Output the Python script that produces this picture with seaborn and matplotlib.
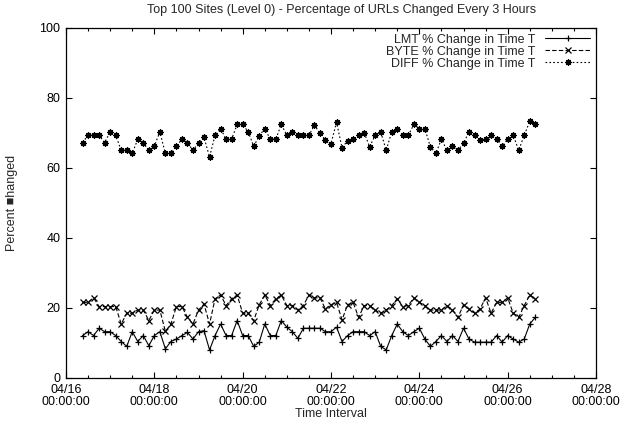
import numpy as np
import pandas as pd
import matplotlib
matplotlib.use("Agg")
import matplotlib.pyplot as plt
import matplotlib.dates as mdates
import seaborn as sns

title = "Top 100 Sites (Level 0) - Percentage of URLs Changed Every 3 Hours"
series_names = ["LMT % Change in Time T", "BYTE % Change in Time T", "DIFF % Change in Time T"]
start_time = "2001-04-16 09:00"
step = "3h"

lmt = [12.0, 13.1, 12.0, 14.1, 13.1, 13.1, 12.0, 10.3, 8.9, 13.1, 10.3, 12.0, 9.1, 12.0, 13.1, 8.2,
       10.3, 11.0, 12.0, 12.9, 11.0, 13.1, 13.4,
       7.9, 12.0, 15.3, 12.0, 12.0, 16.3, 12.0, 12.0, 8.9, 10.1, 15.3, 12.0, 12.0, 16.3, 14.4, 13.1,
       11.2, 14.1, 14.1, 14.1, 14.1, 13.1, 13.1, 14.4,
       10.3, 12.0, 13.1, 13.1, 13.1, 12.0, 13.1, 8.9, 7.9, 12.0, 15.3, 13.1, 12.0, 13.1, 14.1, 11.0,
       8.9, 10.3, 12.0, 10.3, 12.0, 10.3, 14.1, 11.0,
       10.1, 10.1, 10.1, 10.1, 12.0, 10.1, 12.0, 11.0, 10.1, 11.0, 15.3, 17.2]
byte = [21.5, 21.5, 22.8, 20.3, 20.3, 20.3, 20.3, 15.3, 18.4, 18.4, 19.3, 19.3, 16.3, 19.3, 19.3, 13.2,
        15.3, 20.3, 20.3, 17.2, 15.3, 19.3, 21.0,
        15.3, 22.5, 23.6, 20.6, 22.5, 23.6, 18.4, 18.4, 16.3, 20.8, 23.6, 20.6, 22.5, 23.6, 20.6, 20.6,
        19.3, 20.6, 23.6, 22.8, 22.8, 19.6, 20.8, 21.5,
        16.5, 20.8, 21.5, 17.2, 20.6, 20.6, 19.3, 18.4, 19.3, 20.6, 22.5, 20.3, 20.6, 22.8, 21.5, 20.6,
        19.3, 19.3, 19.3, 20.6, 19.3, 17.2, 20.8, 19.6,
        18.4, 19.6, 22.8, 18.4, 21.5, 21.5, 22.8, 18.4, 17.2, 20.6, 23.6, 22.5]
diff = [67.2, 69.3, 69.3, 69.3, 67.2, 70.3, 69.3, 65.0, 65.0, 64.1, 68.2, 67.1, 65.0, 66.2, 70.3, 64.1,
        64.1, 66.2, 68.2, 67.1, 65.0, 67.1, 68.7, 63.1,
        69.3, 71.2, 68.2, 68.2, 72.4, 72.4, 70.3, 66.2, 69.1, 71.2, 68.2, 68.2, 72.4, 69.3, 70.3, 69.3,
        69.3, 69.3, 72.2, 69.9, 67.9, 66.9, 73.0,
        65.8, 67.7, 68.2, 69.3, 70.1, 66.0, 69.3, 70.3, 65.0, 70.3, 71.2, 69.3, 69.3, 72.4, 71.2, 71.2,
        66.0, 64.1, 68.2, 65.0, 66.2, 65.0, 67.1,
        70.3, 69.3, 67.9, 68.2, 69.3, 68.2, 66.2, 68.2, 69.3, 65.0, 69.3, 73.3, 72.4]

y_ticks = [0, 20, 40, 60, 80, 100]
x_start = "2001-04-16"
x_end = "2001-04-28"

times = pd.date_range(start_time, periods=len(diff), freq=step)
frames = []
for name, vals in zip(series_names, [lmt, byte, diff]):
    frames.append(pd.DataFrame({"time": times, "value": vals, "series": name}))
df = pd.concat(frames, ignore_index=True)

sns.set_style("ticks")
plt.rcParams["font.family"] = ["Liberation Sans", "DejaVu Sans"]
FS = 9
W, H = 622, 422

fig = plt.figure(figsize=(W / 100, H / 100), dpi=100)
ax = fig.add_axes([66 / W, 1 - 377.5 / H, (596 - 66) / W, (377.5 - 28) / H])

markers = {series_names[0]: "+", series_names[1]: "x", series_names[2]: (8, 2, 0)}
dashes = {series_names[0]: "", series_names[1]: (4, 2), series_names[2]: (1.5, 2)}
palette = {n: "black" for n in series_names}

sns.lineplot(data=df, x="time", y="value", hue="series", style="series",
             hue_order=series_names, style_order=series_names,
             palette=palette, markers=markers, dashes=dashes,
             linewidth=0.8, markersize=4.5, markeredgewidth=0.9,
             markeredgecolor="black", markerfacecolor="black",
             ax=ax, legend="auto")

ax.set_xlim(pd.Timestamp(x_start), pd.Timestamp(x_end))
ax.set_ylim(0, 100)
ax.set_yticks(y_ticks)
ax.xaxis.set_major_locator(mdates.DayLocator(interval=2))
ax.xaxis.set_minor_locator(mdates.HourLocator(byhour=[0, 12]))
ax.xaxis.set_major_formatter(mdates.DateFormatter("%m/%d\n%H:%M:%S"))
ax.tick_params(which="both", direction="in", top=True, right=True, width=0.8, colors="black", labelsize=FS)
ax.tick_params(which="major", length=4.5)
ax.tick_params(which="minor", length=2.5)
ax.tick_params(axis="x", which="major", pad=4.5)
ax.tick_params(axis="y", which="major", pad=4)
for lbl in ax.get_xticklabels():
    lbl.set_linespacing(1.0)
for s in ax.spines.values():
    s.set_linewidth(0.9)
    s.set_color("black")
    s.set_visible(True)

ax.set_xlabel("")
ax.set_ylabel("Percent \u25A0hanged", fontsize=FS)
ax.yaxis.set_label_coords((18 - 66) / 530, 0.5)
fig.text(331 / W, 1 - 414 / H, "Time Interval", fontsize=FS, ha="center", va="center")
fig.text(342 / W, 1 - 10 / H, title, fontsize=FS, ha="center", va="center")

handles, labels = ax.get_legend_handles_labels()
ax.legend(handles, labels, loc="upper right", frameon=False, markerfirst=False,
          handlelength=3.6, labelspacing=0.0, borderaxespad=0.0, handletextpad=0.8,
          borderpad=0.45, fontsize=FS)

fig.savefig("out.png", dpi=100)
